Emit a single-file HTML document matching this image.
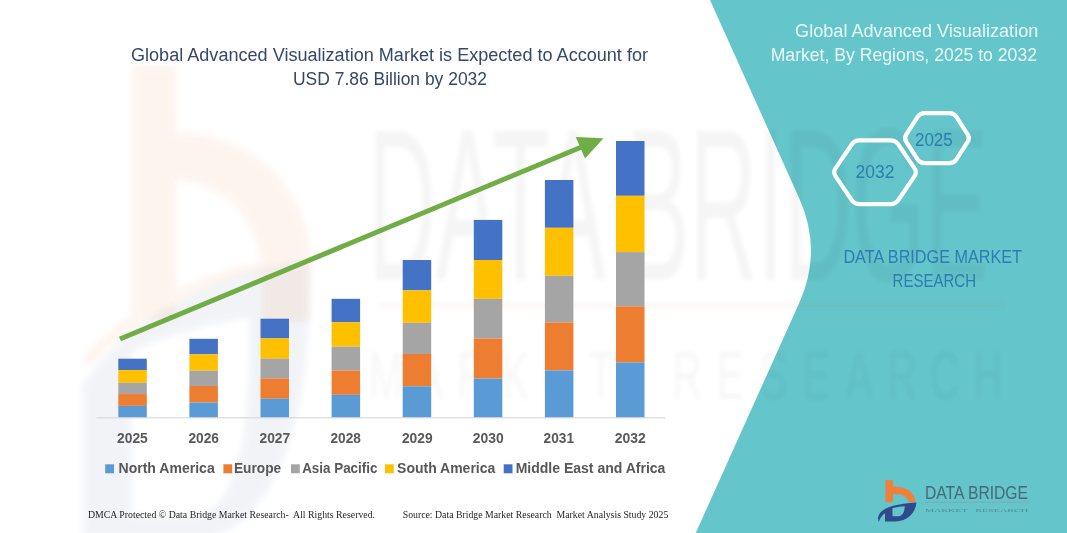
<!DOCTYPE html>
<html><head><meta charset="utf-8"><style>
html,body{margin:0;padding:0;background:#fff;}
body{width:1067px;height:533px;overflow:hidden;font-family:"Liberation Sans", sans-serif;}
svg{display:block;}
</style></head><body>
<svg width="1067" height="533" viewBox="0 0 1067 533">
<defs><filter id="blur3" x="-20%" y="-20%" width="140%" height="140%"><feGaussianBlur stdDeviation="3"/></filter>
<filter id="blur2" x="-5%" y="-20%" width="110%" height="140%"><feGaussianBlur stdDeviation="2.2"/></filter></defs>
<rect width="1067" height="533" fill="#FFFFFF"/>
<g filter="url(#blur3)" fill="#2F4A8C" opacity="0.06"><path fill-rule="evenodd" d="M82 385 C130 315 220 272 310 260 C312 400 285 520 205 540 L82 540 Z M132 352 L132 515 L192 515 C232 515 252 450 249 318 C202 325 162 337 132 352 Z"/></g>
<g filter="url(#blur3)" fill="#ED7D31" opacity="0.08"><rect x="131.5" y="66" width="44.5" height="254"/><path d="M176 133 C252 133 310 188 310 262 L310 322 L262 322 L262 282 C262 222 226 181 176 181 Z"/><path d="M82 361 C130 300 220 262 308 256 L310 264 C225 272 140 310 90 366 Z"/></g>
<path d="M710,0 L1067,0 L1067,533 L695.7,533 L799.2,303 Q822.8,250.7 799.2,198.2 Z" fill="#64C5CB"/>
<g filter="url(#blur2)"><text x="368" y="280" font-family='"Liberation Sans", sans-serif' font-size="218" fill="#000" opacity="0.04" textLength="620" lengthAdjust="spacingAndGlyphs">DATA BRIDGE</text><rect x="380" y="304" width="624" height="3" fill="#C87840" opacity="0.08"/><g opacity="0.03"><text x="386.0" y="399" text-anchor="middle" font-family='"Liberation Sans", sans-serif' font-size="68" fill="#000" transform="translate(386.0 399) scale(0.6 1) translate(-386.0 -399)">M</text><text x="429.0" y="399" text-anchor="middle" font-family='"Liberation Sans", sans-serif' font-size="68" fill="#000" transform="translate(429.0 399) scale(0.6 1) translate(-429.0 -399)">A</text><text x="472.0" y="399" text-anchor="middle" font-family='"Liberation Sans", sans-serif' font-size="68" fill="#000" transform="translate(472.0 399) scale(0.6 1) translate(-472.0 -399)">R</text><text x="515.0" y="399" text-anchor="middle" font-family='"Liberation Sans", sans-serif' font-size="68" fill="#000" transform="translate(515.0 399) scale(0.6 1) translate(-515.0 -399)">K</text><text x="558.0" y="399" text-anchor="middle" font-family='"Liberation Sans", sans-serif' font-size="68" fill="#000" transform="translate(558.0 399) scale(0.6 1) translate(-558.0 -399)">E</text><text x="601.0" y="399" text-anchor="middle" font-family='"Liberation Sans", sans-serif' font-size="68" fill="#000" transform="translate(601.0 399) scale(0.6 1) translate(-601.0 -399)">T</text><text x="687.0" y="399" text-anchor="middle" font-family='"Liberation Sans", sans-serif' font-size="68" fill="#000" transform="translate(687.0 399) scale(0.6 1) translate(-687.0 -399)">R</text><text x="730.0" y="399" text-anchor="middle" font-family='"Liberation Sans", sans-serif' font-size="68" fill="#000" transform="translate(730.0 399) scale(0.6 1) translate(-730.0 -399)">E</text><text x="773.0" y="399" text-anchor="middle" font-family='"Liberation Sans", sans-serif' font-size="68" fill="#000" transform="translate(773.0 399) scale(0.6 1) translate(-773.0 -399)">S</text><text x="816.0" y="399" text-anchor="middle" font-family='"Liberation Sans", sans-serif' font-size="68" fill="#000" transform="translate(816.0 399) scale(0.6 1) translate(-816.0 -399)">E</text><text x="859.0" y="399" text-anchor="middle" font-family='"Liberation Sans", sans-serif' font-size="68" fill="#000" transform="translate(859.0 399) scale(0.6 1) translate(-859.0 -399)">A</text><text x="902.0" y="399" text-anchor="middle" font-family='"Liberation Sans", sans-serif' font-size="68" fill="#000" transform="translate(902.0 399) scale(0.6 1) translate(-902.0 -399)">R</text><text x="945.0" y="399" text-anchor="middle" font-family='"Liberation Sans", sans-serif' font-size="68" fill="#000" transform="translate(945.0 399) scale(0.6 1) translate(-945.0 -399)">C</text><text x="988.0" y="399" text-anchor="middle" font-family='"Liberation Sans", sans-serif' font-size="68" fill="#000" transform="translate(988.0 399) scale(0.6 1) translate(-988.0 -399)">H</text></g></g>
<text x="131" y="60.6" font-family='"Liberation Sans", sans-serif' font-size="18" font-weight="normal" fill="#374769" textLength="517" lengthAdjust="spacingAndGlyphs" >Global Advanced Visualization Market is Expected to Account for</text>
<text x="293" y="84.9" font-family='"Liberation Sans", sans-serif' font-size="18" font-weight="normal" fill="#374769" textLength="194" lengthAdjust="spacingAndGlyphs" >USD 7.86 Billion by 2032</text>
<rect x="96.5" y="417.2" width="568.8" height="1.2" fill="#D9D9D9"/>
<rect x="118.30" y="358.70" width="28.5" height="11.40" fill="#4472C4"/>
<rect x="118.30" y="370.10" width="28.5" height="12.70" fill="#FFC000"/>
<rect x="118.30" y="382.80" width="28.5" height="11.30" fill="#A5A5A5"/>
<rect x="118.30" y="394.10" width="28.5" height="11.80" fill="#ED7D31"/>
<rect x="118.30" y="405.90" width="28.5" height="11.30" fill="#5B9BD5"/>
<rect x="189.40" y="338.80" width="28.5" height="15.60" fill="#4472C4"/>
<rect x="189.40" y="354.40" width="28.5" height="16.30" fill="#FFC000"/>
<rect x="189.40" y="370.70" width="28.5" height="15.30" fill="#A5A5A5"/>
<rect x="189.40" y="386.00" width="28.5" height="16.50" fill="#ED7D31"/>
<rect x="189.40" y="402.50" width="28.5" height="14.70" fill="#5B9BD5"/>
<rect x="260.50" y="318.70" width="28.5" height="19.70" fill="#4472C4"/>
<rect x="260.50" y="338.40" width="28.5" height="20.30" fill="#FFC000"/>
<rect x="260.50" y="358.70" width="28.5" height="19.70" fill="#A5A5A5"/>
<rect x="260.50" y="378.40" width="28.5" height="20.30" fill="#ED7D31"/>
<rect x="260.50" y="398.70" width="28.5" height="18.50" fill="#5B9BD5"/>
<rect x="331.60" y="298.80" width="28.5" height="23.50" fill="#4472C4"/>
<rect x="331.60" y="322.30" width="28.5" height="24.40" fill="#FFC000"/>
<rect x="331.60" y="346.70" width="28.5" height="23.80" fill="#A5A5A5"/>
<rect x="331.60" y="370.50" width="28.5" height="24.30" fill="#ED7D31"/>
<rect x="331.60" y="394.80" width="28.5" height="22.40" fill="#5B9BD5"/>
<rect x="402.70" y="260.00" width="28.5" height="30.40" fill="#4472C4"/>
<rect x="402.70" y="290.40" width="28.5" height="32.40" fill="#FFC000"/>
<rect x="402.70" y="322.80" width="28.5" height="31.20" fill="#A5A5A5"/>
<rect x="402.70" y="354.00" width="28.5" height="32.30" fill="#ED7D31"/>
<rect x="402.70" y="386.30" width="28.5" height="30.90" fill="#5B9BD5"/>
<rect x="473.80" y="219.90" width="28.5" height="40.10" fill="#4472C4"/>
<rect x="473.80" y="260.00" width="28.5" height="38.90" fill="#FFC000"/>
<rect x="473.80" y="298.90" width="28.5" height="39.60" fill="#A5A5A5"/>
<rect x="473.80" y="338.50" width="28.5" height="40.00" fill="#ED7D31"/>
<rect x="473.80" y="378.50" width="28.5" height="38.70" fill="#5B9BD5"/>
<rect x="544.90" y="180.00" width="28.5" height="47.80" fill="#4472C4"/>
<rect x="544.90" y="227.80" width="28.5" height="48.00" fill="#FFC000"/>
<rect x="544.90" y="275.80" width="28.5" height="46.60" fill="#A5A5A5"/>
<rect x="544.90" y="322.40" width="28.5" height="48.00" fill="#ED7D31"/>
<rect x="544.90" y="370.40" width="28.5" height="46.80" fill="#5B9BD5"/>
<rect x="616.00" y="141.00" width="28.5" height="54.80" fill="#4472C4"/>
<rect x="616.00" y="195.80" width="28.5" height="56.30" fill="#FFC000"/>
<rect x="616.00" y="252.10" width="28.5" height="54.20" fill="#A5A5A5"/>
<rect x="616.00" y="306.30" width="28.5" height="56.10" fill="#ED7D31"/>
<rect x="616.00" y="362.40" width="28.5" height="54.80" fill="#5B9BD5"/>
<line x1="120" y1="339" x2="584" y2="146" stroke="#70AD47" stroke-width="5"/>
<polygon points="603.5,138.2 575.8,137.0 585.0,158.5" fill="#70AD47"/>
<text x="117" y="443.2" font-family='"Liberation Sans", sans-serif' font-size="14" font-weight="bold" fill="#595959" textLength="30.8" lengthAdjust="spacingAndGlyphs" >2025</text>
<text x="188.5" y="443.2" font-family='"Liberation Sans", sans-serif' font-size="14" font-weight="bold" fill="#595959" textLength="30.5" lengthAdjust="spacingAndGlyphs" >2026</text>
<text x="259.5" y="443.2" font-family='"Liberation Sans", sans-serif' font-size="14" font-weight="bold" fill="#595959" textLength="30.7" lengthAdjust="spacingAndGlyphs" >2027</text>
<text x="330.5" y="443.2" font-family='"Liberation Sans", sans-serif' font-size="14" font-weight="bold" fill="#595959" textLength="30.5" lengthAdjust="spacingAndGlyphs" >2028</text>
<text x="401.9" y="443.2" font-family='"Liberation Sans", sans-serif' font-size="14" font-weight="bold" fill="#595959" textLength="30.7" lengthAdjust="spacingAndGlyphs" >2029</text>
<text x="472.8" y="443.2" font-family='"Liberation Sans", sans-serif' font-size="14" font-weight="bold" fill="#595959" textLength="30.9" lengthAdjust="spacingAndGlyphs" >2030</text>
<text x="543.6" y="443.2" font-family='"Liberation Sans", sans-serif' font-size="14" font-weight="bold" fill="#595959" textLength="30.4" lengthAdjust="spacingAndGlyphs" >2031</text>
<text x="614.7" y="443.2" font-family='"Liberation Sans", sans-serif' font-size="14" font-weight="bold" fill="#595959" textLength="31.0" lengthAdjust="spacingAndGlyphs" >2032</text>
<rect x="105.2" y="464.3" width="8.8" height="9" fill="#5B9BD5"/>
<text x="118.5" y="473.3" font-family='"Liberation Sans", sans-serif' font-size="14" font-weight="bold" fill="#575757" textLength="96.2" lengthAdjust="spacingAndGlyphs" >North America</text>
<rect x="223.4" y="464.3" width="8.8" height="9" fill="#ED7D31"/>
<text x="234.0" y="473.3" font-family='"Liberation Sans", sans-serif' font-size="14" font-weight="bold" fill="#575757" textLength="47.1" lengthAdjust="spacingAndGlyphs" >Europe</text>
<rect x="291" y="464.3" width="8.8" height="9" fill="#A5A5A5"/>
<text x="302.2" y="473.3" font-family='"Liberation Sans", sans-serif' font-size="14" font-weight="bold" fill="#575757" textLength="75.2" lengthAdjust="spacingAndGlyphs" >Asia Pacific</text>
<rect x="385" y="464.3" width="8.8" height="9" fill="#FFC000"/>
<text x="397.1" y="473.3" font-family='"Liberation Sans", sans-serif' font-size="14" font-weight="bold" fill="#575757" textLength="98.2" lengthAdjust="spacingAndGlyphs" >South America</text>
<rect x="503.7" y="464.3" width="8.8" height="9" fill="#4472C4"/>
<text x="515.6999999999999" y="473.3" font-family='"Liberation Sans", sans-serif' font-size="14" font-weight="bold" fill="#575757" textLength="149.7" lengthAdjust="spacingAndGlyphs" >Middle East and Africa</text>
<text x="88" y="518.3" font-family='"Liberation Serif", serif' font-size="10.5" font-weight="normal" fill="#262626" textLength="287" lengthAdjust="spacingAndGlyphs" xml:space="preserve">DMCA Protected &#169; Data Bridge Market Research-  All Rights Reserved.</text>
<text x="402.7" y="518.3" font-family='"Liberation Serif", serif' font-size="10.5" font-weight="normal" fill="#262626" textLength="265.6" lengthAdjust="spacingAndGlyphs" xml:space="preserve">Source: Data Bridge Market Research  Market Analysis Study 2025</text>
<text x="795.1" y="37.3" font-family='"Liberation Sans", sans-serif' font-size="18" font-weight="normal" fill="#EAFBFB" textLength="243.2" lengthAdjust="spacingAndGlyphs" >Global Advanced Visualization</text>
<text x="770.7" y="61.4" font-family='"Liberation Sans", sans-serif' font-size="18" font-weight="normal" fill="#EAFBFB" textLength="266.3" lengthAdjust="spacingAndGlyphs" >Market, By Regions, 2025 to 2032</text>
<path d="M835.62,176.43 Q832.80,172.30 835.61,168.17 L851.69,144.53 Q854.50,140.40 859.50,140.40 L890.50,140.40 Q895.50,140.40 898.31,144.53 L914.39,168.17 Q917.20,172.30 914.38,176.43 L898.32,199.97 Q895.50,204.10 890.50,204.10 L859.50,204.10 Q854.50,204.10 851.68,199.97 Z" fill="none" stroke="#FFFFFF" stroke-width="4.2" stroke-linejoin="round"/>
<path d="M906.34,141.98 Q903.90,138.20 906.34,134.42 L917.56,116.98 Q920.00,113.20 924.50,113.20 L949.50,113.20 Q954.00,113.20 956.44,116.98 L967.66,134.42 Q970.10,138.20 967.66,141.98 L956.44,159.42 Q954.00,163.20 949.50,163.20 L924.50,163.20 Q920.00,163.20 917.56,159.42 Z" fill="none" stroke="#FFFFFF" stroke-width="4.2" stroke-linejoin="round"/>
<text x="855.6" y="177.7" font-family='"Liberation Sans", sans-serif' font-size="17.5" font-weight="normal" fill="#2D7DB3" textLength="38.8" lengthAdjust="spacingAndGlyphs" >2032</text>
<text x="915" y="146" font-family='"Liberation Sans", sans-serif' font-size="17.5" font-weight="normal" fill="#2D7DB3" textLength="37.7" lengthAdjust="spacingAndGlyphs" >2025</text>
<text x="843.4" y="262.6" font-family='"Liberation Sans", sans-serif' font-size="17.5" font-weight="normal" fill="#2D7DB3" textLength="178.6" lengthAdjust="spacingAndGlyphs" >DATA BRIDGE MARKET</text>
<text x="892.6" y="286.8" font-family='"Liberation Sans", sans-serif' font-size="17.5" font-weight="normal" fill="#2D7DB3" textLength="83.4" lengthAdjust="spacingAndGlyphs" >RESEARCH</text>
<rect x="885.5" y="480.2" width="7.5" height="22" fill="#F07F3C"/>
<path d="M892 486.5 C905 486 914.5 491 915.5 502 L908.5 502 C907.5 496.5 902 493.5 892 494 Z" fill="#F07F3C"/>
<path fill-rule="evenodd" d="M885 509 C893 505 905 503 916.5 502.5 C915.5 513 907 521.5 895 521.5 L885 521.5 Z M892.5 508 L892.5 516.3 L897.5 516.3 C902 516.3 904.7 512.5 904.7 506.2 C900 506.5 896 507 892.5 508 Z" fill="#2F4A8C"/>
<path d="M886 508.5 C880 511.5 876.5 516 878.8 522 C880 518 882.5 514.5 886 512.5 Z" fill="#2F4A8C"/>
<text x="925" y="499" font-family='"Liberation Sans", sans-serif' font-size="17.5" font-weight="normal" fill="#4A6878" textLength="103" lengthAdjust="spacingAndGlyphs" >DATA BRIDGE</text>
<rect x="925" y="501.8" width="104" height="0.8" fill="#8FA3A8"/>
<text x="925" y="511.5" font-family='"Liberation Serif", serif' font-size="5" font-weight="normal" fill="#5C7880" textLength="103" lengthAdjust="spacingAndGlyphs" xml:space="preserve" opacity="0.8">MARKET   RESEARCH</text>
</svg>
</body></html>
